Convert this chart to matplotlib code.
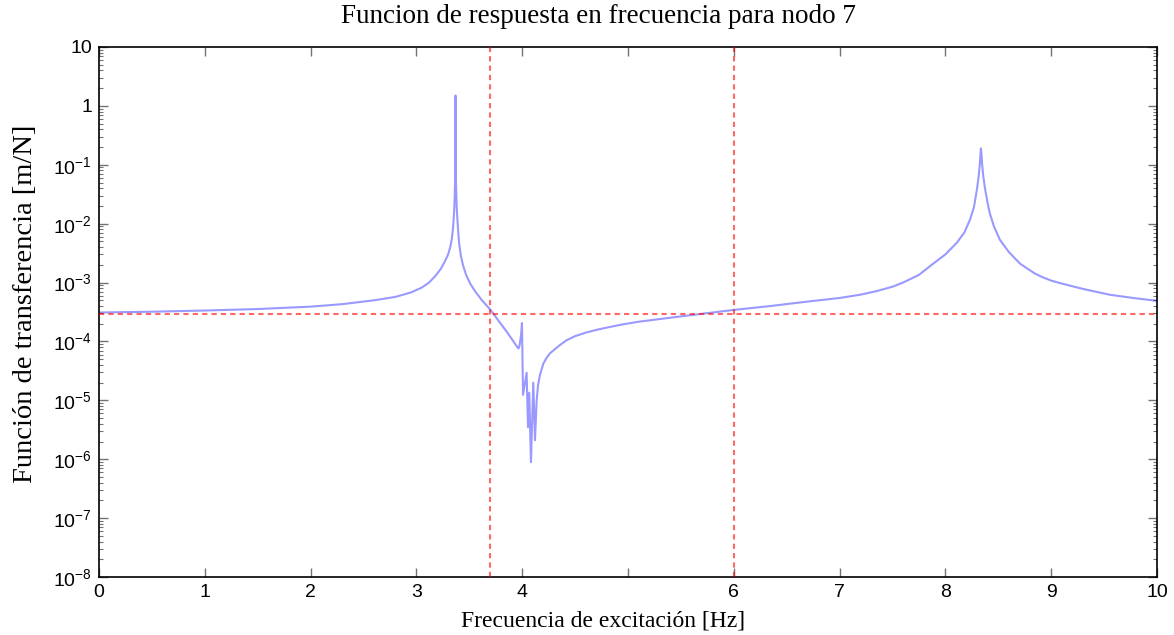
import matplotlib
matplotlib.use("Agg")
import matplotlib.pyplot as plt
from matplotlib.ticker import FixedLocator, LogLocator, NullFormatter

# ---- data ----
freq = [0.0, 0.5, 1.0, 1.5, 2.0, 2.3, 2.6, 2.8, 2.95, 3.05, 3.12, 3.18, 3.23, 3.27,
        3.30, 3.32, 3.335, 3.345, 3.352, 3.358, 3.362, 3.365, 3.367, 3.368, 3.369,
        3.3697, 3.37, 3.3703, 3.371, 3.372, 3.373, 3.375, 3.378, 3.382, 3.388, 3.395,
        3.405, 3.42, 3.44, 3.47, 3.51, 3.56, 3.62, 3.68, 3.72, 3.78, 3.85, 3.91,
        3.95, 3.965, 3.975, 3.99, 3.998, 4.008, 4.042, 4.055, 4.067, 4.083, 4.105,
        4.121, 4.137, 4.15, 4.168, 4.20, 4.23, 4.263, 4.35, 4.42, 4.5, 4.6, 4.7,
        4.8, 4.95, 5.1, 5.43, 5.7, 6.0, 6.35, 6.69, 7.0, 7.2, 7.35, 7.5, 7.6, 7.75,
        7.886, 8.0, 8.106, 8.18, 8.232, 8.27, 8.30, 8.315, 8.325, 8.332, 8.336,
        8.341, 8.348, 8.358, 8.374, 8.40, 8.42, 8.46, 8.516, 8.6, 8.705, 8.78, 8.85,
        8.92, 9.0, 9.083, 9.3, 9.556, 9.8, 10.0]
amplitude = [3.1e-4, 3.2e-4, 3.35e-4, 3.55e-4, 3.9e-4, 4.3e-4, 5.0e-4, 5.7e-4, 6.8e-4,
             8.2e-4, 1.0e-3, 1.3e-3, 1.7e-3, 2.3e-3, 3.0e-3, 4.0e-3, 5.5e-3, 8.0e-3,
             1.16e-2, 1.8e-2, 2.8e-2, 4.5e-2, 8e-2, 1.3e-1, 3e-1, 7e-1, 1.5, 7e-1,
             3e-1, 1.3e-1, 8e-2, 4.5e-2, 2.8e-2, 1.8e-2, 1.16e-2, 7.5e-3, 4.5e-3,
             2.9e-3, 2.0e-3, 1.35e-3, 9.5e-4, 6.9e-4, 5.0e-4, 3.8e-4, 3.1e-4, 2.2e-4,
             1.5e-4, 1.05e-4, 8.2e-5, 7.6e-5, 8.5e-5, 1.3e-4, 2.06e-4, 1.24e-5,
             2.95e-5, 3.5e-6, 1.35e-5, 8.9e-7, 2.0e-5, 2.1e-6, 1.0e-5, 1.8e-5, 2.7e-5,
             4.2e-5, 5.25e-5, 6.3e-5, 8.5e-5, 1.05e-4, 1.23e-4, 1.41e-4, 1.57e-4,
             1.72e-4, 1.95e-4, 2.16e-4, 2.57e-4, 2.95e-4, 3.43e-4, 4.0e-4, 4.74e-4,
             5.47e-4, 6.24e-4, 7.16e-4, 8.5e-4, 1.0e-3, 1.35e-3, 2.1e-3, 3.0e-3,
             4.7e-3, 7.1e-3, 1.16e-2, 1.9e-2, 4.0e-2, 6.5e-2, 1.0e-1, 1.5e-1, 1.9e-1,
             1.5e-1, 1.0e-1, 6.5e-2, 4.0e-2, 2.2e-2, 1.5e-2, 8.9e-3, 5.3e-3, 3.3e-3,
             2.1e-3, 1.7e-3, 1.41e-3, 1.23e-3, 1.08e-3, 9.8e-4, 7.8e-4, 6.2e-4,
             5.4e-4, 4.9e-4]

vline_freqs = [3.7, 6.0]
hline_value = 2.9e-4

xticks = [0, 1, 2, 3, 4, 5, 6, 7, 8, 9, 10]
xtick_labels = ['0', '1', '2', '3', '4', '', '6', '7', '8', '9', '10']
yticks = [1e1, 1e0, 1e-1, 1e-2, 1e-3, 1e-4, 1e-5, 1e-6, 1e-7, 1e-8]
ytick_labels = ['10', '1', r'$10^{-1}$', r'$10^{-2}$', r'$10^{-3}$', r'$10^{-4}$',
                r'$10^{-5}$', r'$10^{-6}$', r'$10^{-7}$', r'$10^{-8}$']

title = "Funcion de respuesta en frecuencia para nodo 7"
xlabel = "Frecuencia de excitación [Hz]"
ylabel = "Función de transferencia [m/N]"

# ---- styling ----
plt.rcParams['mathtext.fontset'] = 'custom'
plt.rcParams['mathtext.rm'] = 'Liberation Sans'
plt.rcParams['mathtext.it'] = 'Liberation Sans'
plt.rcParams['mathtext.bf'] = 'Liberation Sans'

fig = plt.figure(figsize=(11.74, 6.35), dpi=100)
ax = fig.add_axes([0.0843, 0.0913, 0.9012, 0.8347])

ax.plot(freq, amplitude, color=(0.0, 0.0, 1.0, 0.4), linewidth=1.5, zorder=2)
for vf in vline_freqs:
    ax.axvline(vf, color=(1.0, 0.0, 0.0, 0.6), linestyle=(0, (2.5, 2.0)), linewidth=1.5, zorder=3)
ax.axhline(hline_value, color=(1.0, 0.0, 0.0, 0.6), linestyle=(0, (2.5, 2.0)), linewidth=1.5, zorder=3)

ax.set_yscale('log')
ax.set_xlim(0, 10)
ax.set_ylim(1e-8, 1e1)

ax.xaxis.set_major_locator(FixedLocator(xticks))
ax.set_xticklabels(xtick_labels, fontfamily='Liberation Sans', fontsize=14)
ax.yaxis.set_major_locator(FixedLocator(yticks))
ax.set_yticklabels(ytick_labels, fontfamily='Liberation Sans', fontsize=14)
ax.yaxis.set_minor_locator(LogLocator(base=10, subs=range(2, 10), numticks=20))
ax.yaxis.set_minor_formatter(NullFormatter())

ax.tick_params(which='both', direction='in', top=True, right=True, color='0.45')
ax.tick_params(which='major', length=6.5, width=1)
ax.tick_params(which='minor', length=3, width=0.8)
ax.tick_params(axis='x', pad=5)
ax.tick_params(axis='y', pad=5)
for sp in ax.spines.values():
    sp.set_color('black')
    sp.set_linewidth(1.2)

ax.text(0.472, 1.0566, title, transform=ax.transAxes, ha='center', va='center',
        fontfamily='Liberation Serif', fontsize=19.5)
ax.set_xlabel(xlabel, fontfamily='Liberation Serif', fontsize=17)
ax.xaxis.label.set_va('center')
ax.xaxis.set_label_coords(0.476, -0.083)
ax.set_ylabel(ylabel, fontfamily='Liberation Serif', fontsize=20.5)
ax.yaxis.label.set_va('center')
ax.yaxis.set_label_coords(-0.069, 0.515)

fig.savefig('out.png', dpi=100)
